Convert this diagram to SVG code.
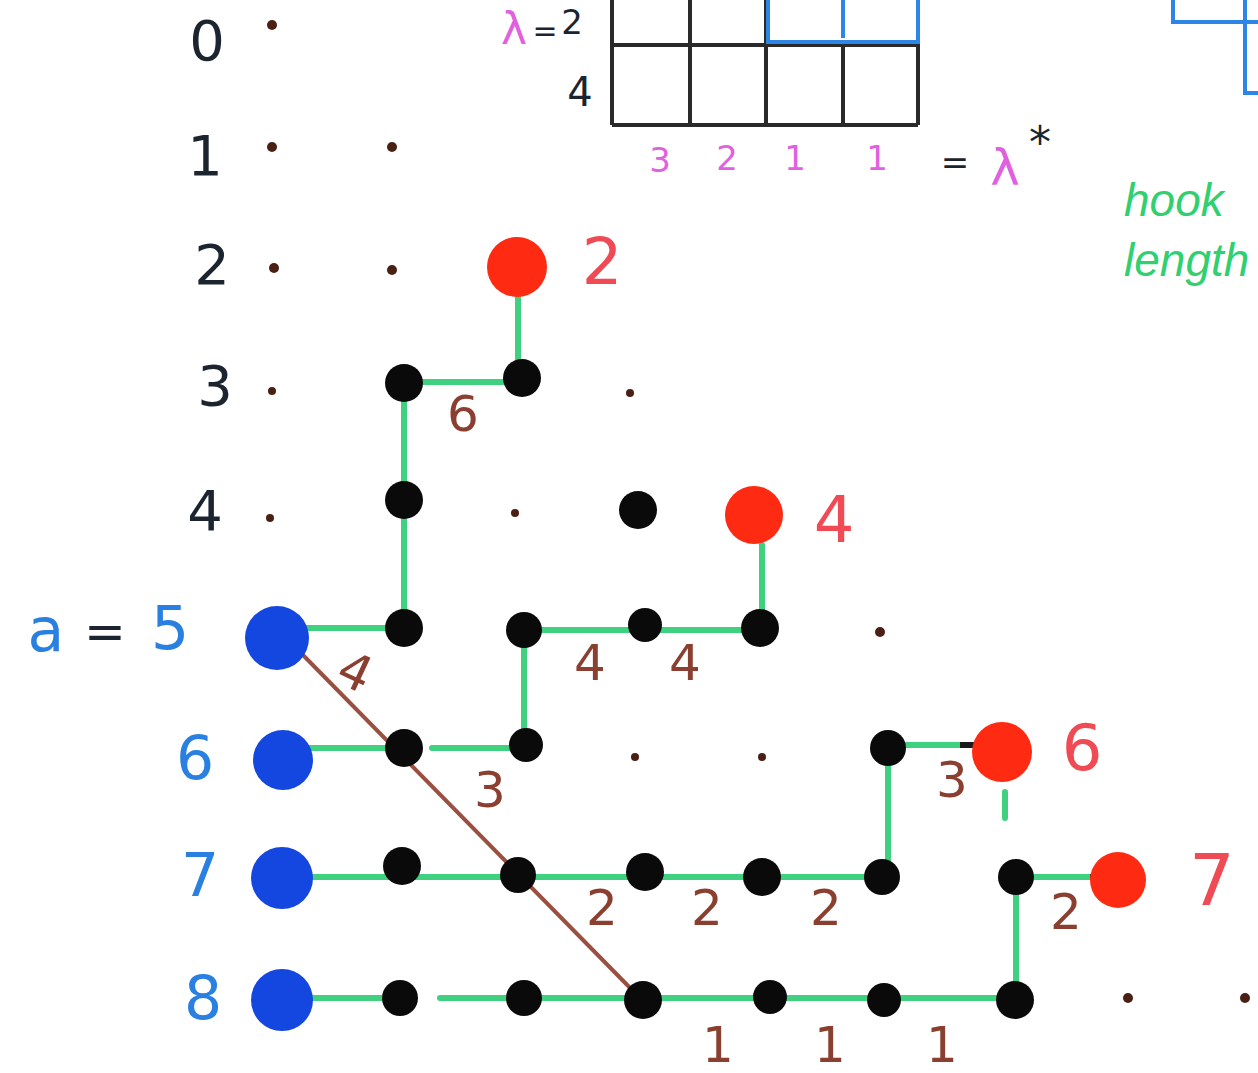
<svg xmlns="http://www.w3.org/2000/svg" width="1258" height="1073" viewBox="0 0 1258 1073">
<style>
.bg{fill:#ffffff}
.sd{fill:#4a1f14}
.bd{fill:#0a0a0a}
.rd{fill:#ff2a12}
.bl{fill:#1446e0}
.g{stroke:#3fd080;stroke-width:6;fill:none;stroke-linecap:round}
.br{stroke:#9a5040;stroke-width:4;fill:none}
.grid{stroke:#2a2a2a;stroke-width:4;fill:none}
.bgrid{stroke:#2d86e6;stroke-width:4;fill:none}
.t{font-family:"DejaVu Sans",sans-serif;text-anchor:middle;dominant-baseline:central}
.tk{fill:#1c2430;font-size:56px}
.tb{fill:#2a80e0;font-size:60px}
.tr{fill:#f04a55;font-size:64px}
.tn{fill:#8a3f30;font-size:50px}
.tm{fill:#e060e0;font-size:34px}
.tg{fill:#30d070;font-size:46px;font-style:italic;text-anchor:start;font-family:"Liberation Sans",sans-serif}
</style>
<rect class="bg" x="0" y="0" width="1258" height="1073"/>

<g id="young-diagram">
  <path class="grid" d="M612 0 V125 M690 0 V125 M766 0 V125 M843 45 V125 M918 0 V125 M612 45 H918 M612 125 H918"/>
  <path class="bgrid" d="M768 0 V42 H916 M843 0 V38 M918 0 V44"/>
  <text class="t tm" x="514" y="28" style="font-size:44px">λ</text>
  <text class="t tk" x="545" y="30" style="font-size:30px">=</text>
  <text class="t tk" x="572" y="22" style="font-size:34px">2</text>
  <text class="t tk" x="580" y="92" style="font-size:40px">4</text>
  <text class="t tm" x="660" y="160">3</text>
  <text class="t tm" x="727" y="158">2</text>
  <text class="t tm" x="795" y="158">1</text>
  <text class="t tm" x="877" y="158">1</text>
  <text class="t tk" x="955" y="162" style="font-size:34px">=</text>
  <text class="t tm" x="1005" y="168" style="font-size:50px">λ</text>
  <text class="t tk" x="1040" y="142" style="font-size:44px">*</text>
</g>

<g id="conjugate-diagram">
  <path class="bgrid" d="M1173 0 V22 H1258 M1245 0 V93 H1258"/>
</g>

<g id="hook-length-note">
  <text class="t tg" x="1124" y="200">hook</text>
  <text class="t tg" x="1124" y="260">length</text>
</g>

<g id="row-labels">
  <text class="t tk" x="207" y="40">0</text>
  <text class="t tk" x="205" y="155">1</text>
  <text class="t tk" x="212" y="264">2</text>
  <text class="t tk" x="215" y="385">3</text>
  <text class="t tk" x="205" y="510">4</text>
  <text class="t tb" x="46" y="630">a</text>
  <text class="t tk" x="105" y="632" style="font-size:50px">=</text>
  <text class="t tb" x="170" y="628">5</text>
  <text class="t tb" x="195" y="758">6</text>
  <text class="t tb" x="200" y="875">7</text>
  <text class="t tb" x="203" y="998">8</text>
</g>

<g id="connectors">
  <path class="br" d="M300 652 L640 998"/>
  <path class="g" d="M518 292 V378 M404 382 H522 M404 382 V628 M300 628 H404 M524 630 H760 M524 630 V745 M300 748 H404 M432 748 H524 M762 628 V545 M888 745 H985 M888 748 V877 M1005 792 V818 M300 877 H882 M1016 877 H1118 M1016 877 V1000 M300 998 H400 M440 998 H1015"/>
  <path d="M960 745 H1000 M1090 877 H1118" stroke="#1a1a1a" stroke-width="6"/>
</g>

<g id="small-dots">
  <circle class="sd" cx="272" cy="25" r="5"/>
  <circle class="sd" cx="272" cy="147" r="5"/>
  <circle class="sd" cx="392" cy="147" r="5"/>
  <circle class="sd" cx="274" cy="268" r="5"/>
  <circle class="sd" cx="392" cy="270" r="5"/>
  <circle class="sd" cx="272" cy="391" r="4"/>
  <circle class="sd" cx="630" cy="393" r="4"/>
  <circle class="sd" cx="270" cy="518" r="4"/>
  <circle class="sd" cx="515" cy="513" r="4"/>
  <circle class="sd" cx="880" cy="632" r="5"/>
  <circle class="sd" cx="635" cy="757" r="4"/>
  <circle class="sd" cx="762" cy="757" r="4"/>
  <circle class="sd" cx="1128" cy="998" r="5"/>
  <circle class="sd" cx="1245" cy="998" r="5"/>
</g>

<g id="node-r3c1"><circle class="bd" cx="404" cy="383" r="19"/></g>
<g id="node-r3c2"><circle class="bd" cx="522" cy="378" r="19"/></g>
<g id="node-r4c1"><circle class="bd" cx="404" cy="500" r="19"/></g>
<g id="node-r4c3"><circle class="bd" cx="638" cy="510" r="19"/></g>
<g id="node-r5c1"><circle class="bd" cx="404" cy="628" r="19"/></g>
<g id="node-r5c2"><circle class="bd" cx="524" cy="630" r="18"/></g>
<g id="node-r5c3"><circle class="bd" cx="645" cy="625" r="17"/></g>
<g id="node-r5c4"><circle class="bd" cx="760" cy="628" r="19"/></g>
<g id="node-r6c1"><circle class="bd" cx="404" cy="748" r="19"/></g>
<g id="node-r6c2"><circle class="bd" cx="526" cy="745" r="17"/></g>
<g id="node-r6c5"><circle class="bd" cx="888" cy="748" r="18"/></g>
<g id="node-r7c1"><circle class="bd" cx="402" cy="866" r="19"/></g>
<g id="node-r7c2"><circle class="bd" cx="518" cy="875" r="18"/></g>
<g id="node-r7c3"><circle class="bd" cx="645" cy="872" r="19"/></g>
<g id="node-r7c4"><circle class="bd" cx="762" cy="877" r="19"/></g>
<g id="node-r7c5"><circle class="bd" cx="882" cy="877" r="18"/></g>
<g id="node-r7c6"><circle class="bd" cx="1016" cy="877" r="18"/></g>
<g id="node-r8c1"><circle class="bd" cx="400" cy="998" r="18"/></g>
<g id="node-r8c2"><circle class="bd" cx="524" cy="998" r="18"/></g>
<g id="node-r8c3"><circle class="bd" cx="643" cy="1000" r="19"/></g>
<g id="node-r8c4"><circle class="bd" cx="770" cy="997" r="17"/></g>
<g id="node-r8c5"><circle class="bd" cx="884" cy="1000" r="17"/></g>
<g id="node-r8c6"><circle class="bd" cx="1015" cy="1000" r="19"/></g>

<g id="red-2"><circle class="rd" cx="517" cy="267" r="30"/><text class="t tr" x="602" y="262">2</text></g>
<g id="red-4"><circle class="rd" cx="754" cy="515" r="29"/><text class="t tr" x="834" y="520">4</text></g>
<g id="red-6"><circle class="rd" cx="1002" cy="752" r="30"/><text class="t tr" x="1082" y="748">6</text></g>
<g id="red-7"><circle class="rd" cx="1118" cy="880" r="28"/><text class="t tr" x="1212" y="880" style="font-size:72px">7</text></g>

<g id="blue-5"><circle class="bl" cx="277" cy="638" r="32"/></g>
<g id="blue-6"><circle class="bl" cx="283" cy="760" r="30"/></g>
<g id="blue-7"><circle class="bl" cx="282" cy="878" r="31"/></g>
<g id="blue-8"><circle class="bl" cx="282" cy="1000" r="31"/></g>

<g id="hook-labels">
  <text class="t tn" x="463" y="414">6</text>
  <text class="t tn" x="355" y="672" transform="rotate(25 355 672)">4</text>
  <text class="t tn" x="590" y="663">4</text>
  <text class="t tn" x="685" y="663">4</text>
  <text class="t tn" x="490" y="790">3</text>
  <text class="t tn" x="952" y="780">3</text>
  <text class="t tn" x="602" y="908">2</text>
  <text class="t tn" x="707" y="908">2</text>
  <text class="t tn" x="826" y="908">2</text>
  <text class="t tn" x="1066" y="912">2</text>
  <text class="t tn" x="718" y="1045">1</text>
  <text class="t tn" x="830" y="1045">1</text>
  <text class="t tn" x="942" y="1045">1</text>
</g>
</svg>
